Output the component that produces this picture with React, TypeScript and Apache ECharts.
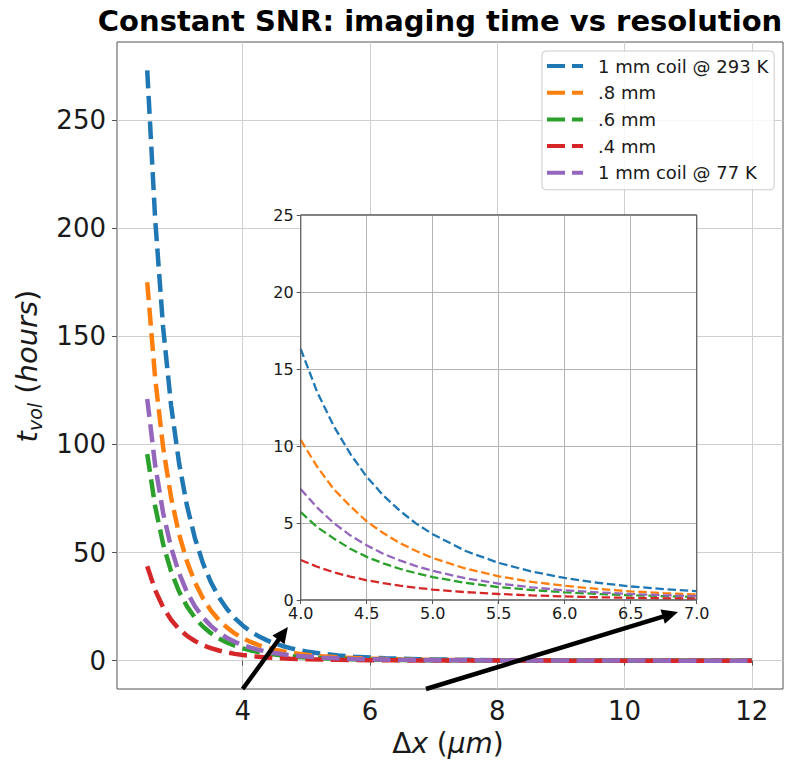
import React, { useEffect, useRef } from 'react';
import * as echarts from 'echarts';

// Δx (µm) sample positions
const DX = [2.5, 2.625, 2.75, 2.875, 3, 3.125, 3.25, 3.375, 3.5, 3.625, 3.75, 3.875, 4, 4.125, 4.25, 4.375, 4.5, 4.625, 4.75, 4.875, 5, 5.25, 5.5, 5.75, 6, 6.25, 6.5, 6.75, 7, 8, 9, 10, 11, 12];

// imaging time t_vol (hours) for each curve
const T_1MM_293K = [273, 204, 154, 118, 91.4, 71.6, 56.6, 45.1, 36.3, 29.4, 24.0, 19.7, 16.3, 13.5, 11.3, 9.5, 8.0, 6.8, 5.8, 4.96, 4.27, 3.18, 2.41, 1.85, 1.43, 1.12, 0.88, 0.71, 0.57, 0.25, 0.125, 0.067, 0.039, 0.023];
const T_08MM = [175, 130.5, 98.6, 75.5, 58.5, 45.8, 36.2, 28.9, 23.2, 18.8, 15.4, 12.6, 10.4, 8.65, 7.2, 6.1, 5.1, 4.35, 3.7, 3.18, 2.73, 2.04, 1.54, 1.18, 0.92, 0.72, 0.56, 0.45, 0.36, 0.16, 0.08, 0.043, 0.025, 0.015];
const T_06MM = [95.5, 71.3, 53.9, 41.3, 32.0, 25.1, 19.8, 15.8, 12.7, 10.3, 8.4, 6.9, 5.7, 4.73, 4.0, 3.33, 2.8, 2.38, 2.03, 1.74, 1.49, 1.11, 0.84, 0.65, 0.5, 0.39, 0.31, 0.25, 0.2, 0.09, 0.044, 0.023, 0.014, 0.008];
const T_04MM = [43.7, 32.6, 24.7, 18.9, 14.6, 11.5, 9.1, 7.2, 5.8, 4.7, 3.84, 3.15, 2.6, 2.16, 1.8, 1.52, 1.28, 1.09, 0.93, 0.79, 0.68, 0.51, 0.39, 0.3, 0.23, 0.18, 0.14, 0.11, 0.09, 0.04, 0.02, 0.011, 0.006, 0.004];
const T_1MM_77K = [121, 90.3, 68.3, 52.3, 40.5, 31.7, 25.1, 20.0, 16.1, 13.0, 10.6, 8.7, 7.2, 6.0, 5.0, 4.2, 3.55, 3.0, 2.57, 2.2, 1.89, 1.41, 1.07, 0.82, 0.63, 0.5, 0.39, 0.31, 0.25, 0.11, 0.055, 0.03, 0.017, 0.01];

const SERIES_NAMES = ['1 mm coil @ 293 K', '.8 mm', '.6 mm', '.4 mm', '1 mm coil @ 77 K'];
const SERIES_VALUES = [T_1MM_293K, T_08MM, T_06MM, T_04MM, T_1MM_77K];
const COLORS = ['#1f77b4', '#ff7f0e', '#2ca02c', '#d62728', '#9467bd'];

const MAIN_X_TICKS = [4, 6, 8, 10, 12];
const MAIN_Y_TICKS = [0, 50, 100, 150, 200, 250];
const INSET_X_RANGE = [4, 7];
const INSET_Y_RANGE = [0, 25];

// annotation arrows, in main-axis data coordinates
const ARROWS = [
  { from: [4.0, -13.1], to: [4.71, 15.6] },
  { from: [6.88, -13.1], to: [10.84, 22.5] },
];

const FONT = 'DejaVu Sans';
const MAIN = { left: 117, top: 42, width: 666, height: 647 };
const INSET = { left: 300.7, top: 215, width: 396, height: 385 };
const DASH_ICON = 'path://M0 0H18V4H0Z M25 0H36V4H25Z';

export default function App() {
  const ref = useRef<HTMLDivElement>(null);

  useEffect(() => {
    if (!ref.current) return;
    const chart = echarts.init(ref.current, undefined, { renderer: 'svg' });

    const mainSeries = SERIES_NAMES.map((name, k) => ({
      name,
      type: 'line',
      xAxisIndex: 0,
      yAxisIndex: 0,
      data: DX.map((x, i) => [x, SERIES_VALUES[k][i]]),
      symbol: 'none',
      showSymbol: false,
      smooth: false,
      clip: true,
      z: 2,
      itemStyle: { color: COLORS[k] },
      lineStyle: { color: COLORS[k], width: 4.5, type: [18, 7.5] },
    }));

    const insetSeries = SERIES_NAMES.map((name, k) => ({
      name,
      type: 'line',
      xAxisIndex: 1,
      yAxisIndex: 1,
      data: DX.map((x, i) => [x, SERIES_VALUES[k][i]]).filter(
        (p) => p[0] >= INSET_X_RANGE[0] && p[0] <= INSET_X_RANGE[1]
      ),
      symbol: 'none',
      showSymbol: false,
      smooth: false,
      clip: true,
      z: 6,
      itemStyle: { color: COLORS[k] },
      lineStyle: { color: COLORS[k], width: 2.3, type: [8.5, 3.7] },
    }));

    const tickLabel = { fontFamily: FONT, color: '#1a1a1a' };

    const option: any = {
      animation: false,
      backgroundColor: '#ffffff',
      grid: [
        {
          ...MAIN,
          show: true,
          borderColor: '#555',
          borderWidth: 1,
          backgroundColor: 'transparent',
          containLabel: false,
          outerBoundsMode: 'none',
        },
        {
          ...INSET,
          show: true,
          borderColor: '#555',
          borderWidth: 1,
          backgroundColor: '#ffffff',
          containLabel: false,
          outerBoundsMode: 'none',
          z: 3,
        },
      ],
      xAxis: [
        {
          type: 'value',
          gridIndex: 0,
          min: 2.025,
          max: 12.49,
          axisLine: { show: false },
          axisTick: { show: true, customValues: MAIN_X_TICKS, length: 5, lineStyle: { color: '#555' } },
          axisLabel: { ...tickLabel, customValues: MAIN_X_TICKS, fontSize: 26, margin: 9 },
          splitLine: { show: true, lineStyle: { color: '#cfcfcf', width: 1 } },
        },
        {
          type: 'value',
          gridIndex: 1,
          min: INSET_X_RANGE[0],
          max: INSET_X_RANGE[1],
          interval: 0.5,
          z: 4,
          axisLine: { show: false },
          axisTick: { show: true, length: 4, lineStyle: { color: '#555' } },
          axisLabel: {
            ...tickLabel,
            fontSize: 16,
            margin: 5,
            formatter: (v: number) => v.toFixed(1),
          },
          splitLine: { show: true, lineStyle: { color: '#b4b4b4', width: 1 } },
        },
      ],
      yAxis: [
        {
          type: 'value',
          gridIndex: 0,
          min: -13.1,
          max: 286.1,
          axisLine: { show: false },
          axisTick: { show: true, customValues: MAIN_Y_TICKS, length: 5, lineStyle: { color: '#555' } },
          axisLabel: { ...tickLabel, customValues: MAIN_Y_TICKS, fontSize: 26, margin: 11 },
          splitLine: { show: true, lineStyle: { color: '#cfcfcf', width: 1 } },
        },
        {
          type: 'value',
          gridIndex: 1,
          min: INSET_Y_RANGE[0],
          max: INSET_Y_RANGE[1],
          interval: 5,
          z: 4,
          axisLine: { show: false },
          axisTick: { show: true, length: 4, lineStyle: { color: '#555' } },
          axisLabel: { ...tickLabel, fontSize: 16, margin: 7 },
          splitLine: { show: true, lineStyle: { color: '#b4b4b4', width: 1 } },
        },
      ],
      legend: {
        orient: 'vertical',
        left: 542,
        top: 51,
        data: SERIES_NAMES.map((n) => ({ name: n, icon: DASH_ICON })),
        itemWidth: 36,
        itemHeight: 4,
        itemGap: 6.7,
        padding: [5, 6, 7, 5],
        backgroundColor: 'rgba(255,255,255,0.85)',
        borderColor: '#cccccc',
        borderWidth: 1,
        borderRadius: 4,
        z: 10,
        textStyle: { fontFamily: FONT, fontSize: 18, color: '#1a1a1a', lineHeight: 20, padding: [0, 0, 0, 10] },
      },
      series: [...mainSeries, ...insetSeries],
    };

    chart.setOption(option);

    const px = (p: number[]) => chart.convertToPixel({ xAxisIndex: 0, yAxisIndex: 0 }, p) as number[];
    const arrowEls: any[] = [];
    ARROWS.forEach((a) => {
      const s = px(a.from);
      const t = px(a.to);
      const dx = t[0] - s[0];
      const dy = t[1] - s[1];
      const len = Math.sqrt(dx * dx + dy * dy);
      const ux = dx / len;
      const uy = dy / len;
      const headLen = 16;
      const headHalf = 7.5;
      const bx = t[0] - ux * headLen;
      const by = t[1] - uy * headLen;
      arrowEls.push({
        type: 'line',
        z: 100,
        shape: { x1: s[0], y1: s[1], x2: bx + ux * 2, y2: by + uy * 2 },
        style: { stroke: '#000', lineWidth: 4.5 },
      });
      arrowEls.push({
        type: 'polygon',
        z: 100,
        shape: {
          points: [
            [t[0], t[1]],
            [bx - uy * headHalf, by + ux * headHalf],
            [bx + uy * headHalf, by - ux * headHalf],
          ],
        },
        style: { fill: '#000' },
      });
    });

    chart.setOption({
      graphic: [
        {
          type: 'rect',
          z: 50,
          shape: { x: INSET.left, y: INSET.top, width: INSET.width, height: INSET.height },
          style: { fill: 'none', stroke: '#555', lineWidth: 1 },
          silent: true,
        },
        {
          type: 'text',
          x: 440,
          y: 21,
          z: 50,
          style: {
            text: 'Constant SNR: imaging time vs resolution',
            fontFamily: FONT,
            fontWeight: 'bold',
            fontSize: 29,
            fill: '#000',
            align: 'center',
            verticalAlign: 'middle',
          },
        },
        {
          type: 'text',
          x: 448,
          y: 743,
          z: 50,
          style: {
            text: '{n|Δ}{i|x}{n| (}{i|μm}{n|)}',
            align: 'center',
            verticalAlign: 'middle',
            rich: {
              n: { fontFamily: FONT, fontSize: 28, fill: '#1a1a1a' },
              i: { fontFamily: FONT, fontSize: 28, fontStyle: 'italic', fill: '#1a1a1a' },
            },
          },
        },
        {
          type: 'text',
          x: 27,
          y: 366,
          rotation: Math.PI / 2,
          z: 50,
          style: {
            text: '{i|t}{s|vol}{n| (}{i|hours}{n|)}',
            align: 'center',
            verticalAlign: 'middle',
            rich: {
              n: { fontFamily: FONT, fontSize: 29, fill: '#1a1a1a', lineHeight: 34 },
              i: { fontFamily: FONT, fontSize: 29, fontStyle: 'italic', fill: '#1a1a1a', lineHeight: 34 },
              s: { fontFamily: FONT, fontSize: 19, fontStyle: 'italic', fill: '#1a1a1a', lineHeight: 18, verticalAlign: 'bottom' },
            },
          },
        },
        ...arrowEls,
      ],
    });

    return () => chart.dispose();
  }, []);

  return (
    <div
      ref={ref}
      style={{ position: 'absolute', left: 0, top: 0, width: 807, height: 763, background: '#fff' }}
    />
  );
}
